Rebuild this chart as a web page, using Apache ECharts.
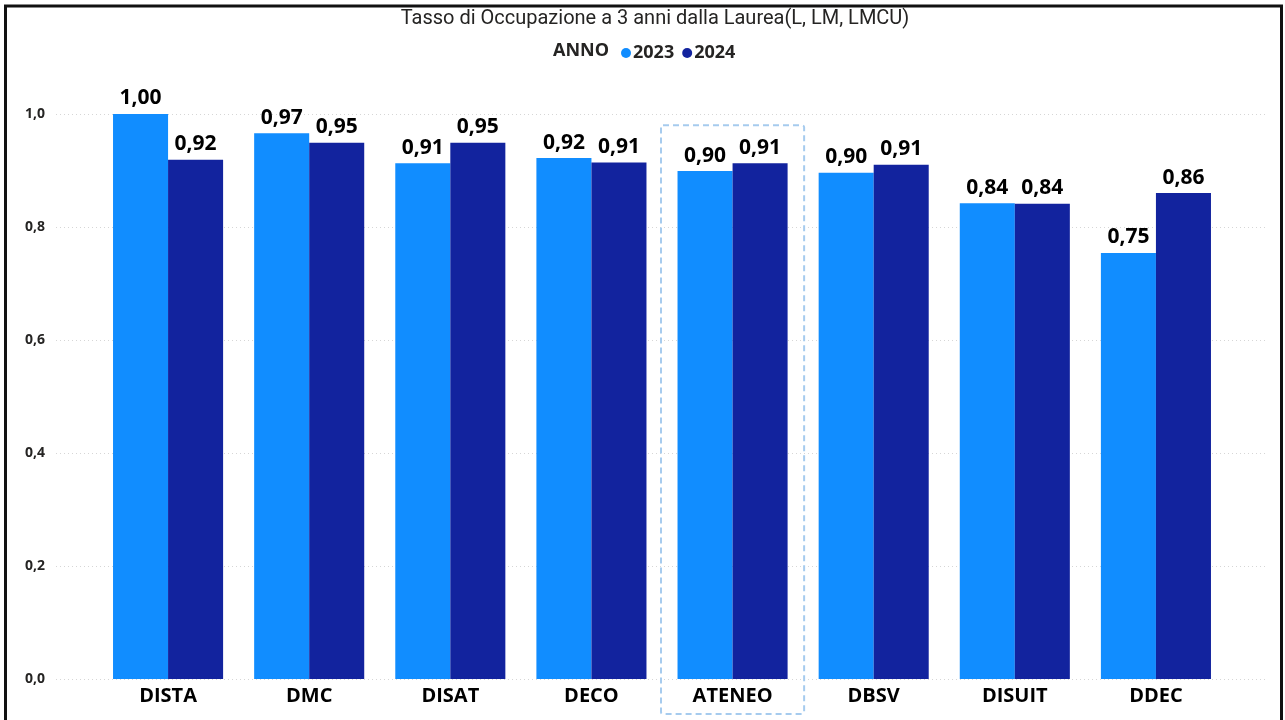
<!DOCTYPE html>
<html><head><meta charset="utf-8">
<script src="https://cdn.jsdelivr.net/npm/echarts@6/dist/echarts.min.js"></script>
<style>html,body{margin:0;padding:0;background:#fff}#c{width:1285px;height:720px}</style>
</head><body><div id="c"></div>
<script>
const categories = ['DISTA','DMC','DISAT','DECO','ATENEO','DBSV','DISUIT','DDEC'];
const seriesNames = ['2023','2024'];
const values2023 = [1.00, 0.966, 0.913, 0.922, 0.899, 0.896, 0.842, 0.754];
const values2024 = [0.919, 0.949, 0.949, 0.914, 0.913, 0.910, 0.841, 0.860];
const yTicks = [0, 0.2, 0.4, 0.6, 0.8, 1.0];
const highlighted = 'ATENEO';

const FONT = '"Open Sans", "Noto Sans", sans-serif';
const TXT = '#252423';
const chart = echarts.init(document.getElementById('c'), null, {renderer:'canvas'});
const fmt = v => v.toFixed(2).replace('.', ',');

chart.setOption({
  animation:false,
  title:{text:'Tasso di Occupazione a 3 anni dalla Laurea(L, LM, LMCU)', left:650, textAlign:'center', top:4,
    textStyle:{fontFamily:'Roboto, sans-serif', fontWeight:'normal', fontSize:20, color:TXT}},
  legend:{data:seriesNames, left:616, top:39, icon:'circle', itemWidth:10, itemHeight:10, itemGap:8,
    textStyle:{fontFamily:FONT, fontWeight:'bold', fontSize:18, color:TXT, padding:[0,0,0,-3]}},
  grid:[
    {left:56, right:18, top:114, bottom:41},
    {left:97.5, right:58.5, top:114, bottom:41}
  ],
  xAxis:[
    {gridIndex:0, type:'value', show:false, min:0, max:1},
    {gridIndex:1, type:'category', data:categories, axisLine:{show:false}, axisTick:{show:false},
      axisLabel:{fontFamily:FONT, fontWeight:'bold', fontSize:20, color:'#000', margin:7}}
  ],
  yAxis:[
    {gridIndex:0, type:'value', min:0, max:1, interval:0.2,
      axisLine:{show:false}, axisTick:{show:false},
      axisLabel:{fontFamily:FONT, fontWeight:'bold', fontSize:14, color:TXT, margin:11,
        formatter:v => yTicks.includes(Math.round(v*10)/10) ? v.toFixed(1).replace('.', ',') : ''},
      splitLine:{lineStyle:{color:'#d6d6d6', type:[1,3], width:1}}},
    {gridIndex:1, type:'value', min:0, max:1, interval:0.2, show:false, splitLine:{show:false}}
  ],
  series:[
    {name:seriesNames[0], type:'bar', xAxisIndex:1, yAxisIndex:1, data:values2023, barGap:'0%', barCategoryGap:'22%',
      itemStyle:{color:'#118DFF'},
      label:{show:true, position:'top', distance:5, formatter:p=>fmt(p.value), fontFamily:FONT, fontWeight:'bold', fontSize:21, color:'#000'}},
    {name:seriesNames[1], type:'bar', xAxisIndex:1, yAxisIndex:1, data:values2024, barGap:'0%', barCategoryGap:'22%',
      itemStyle:{color:'#12239E'},
      label:{show:true, position:'top', distance:5, formatter:p=>fmt(p.value), fontFamily:FONT, fontWeight:'bold', fontSize:21, color:'#000'}}
  ]
});

const idx = categories.indexOf(highlighted);
const cx = chart.convertToPixel({xAxisIndex:1}, categories[idx]);
const c0 = chart.convertToPixel({xAxisIndex:1}, categories[0]);
const c1 = chart.convertToPixel({xAxisIndex:1}, categories[1]);
const band = c1 - c0;
const yTop = chart.convertToPixel({yAxisIndex:1}, 0.98);
const yZero = chart.convertToPixel({yAxisIndex:1}, 0);

chart.setOption({
  graphic:[
    {type:'text', left:553, top:42, style:{text:'ANNO', font:'bold 18px '+FONT, fill:TXT}},
    {type:'rect', shape:{x:cx-band/2-1, y:yTop, width:band+2, height:(yZero+35)-yTop, r:2},
      style:{fill:'none', stroke:'#a6cbee', lineWidth:2, lineDash:[6,4]}},
    {type:'rect', shape:{x:5.5, y:6, width:1276, height:730},
      style:{fill:'none', stroke:'#111', lineWidth:3}}
  ]
});
</script></body></html>
